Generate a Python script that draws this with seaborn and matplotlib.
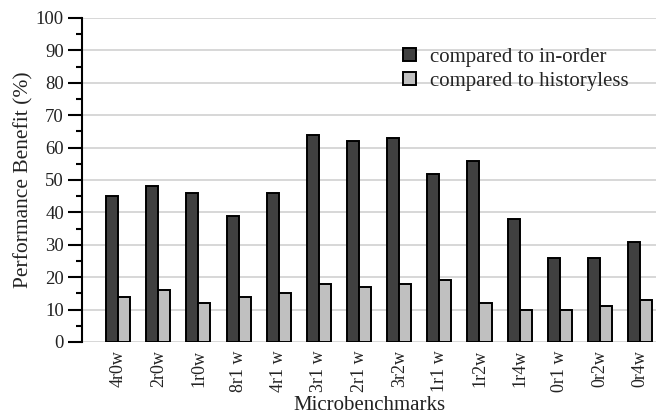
import matplotlib
matplotlib.use("Agg")
import matplotlib.pyplot as plt
import seaborn as sns
import pandas as pd
from matplotlib.ticker import MultipleLocator

categories = ["4r0w", "2r0w", "1r0w", "8r1 w", "4r1 w", "3r1 w", "2r1 w",
              "3r2w", "1r1 w", "1r2w", "1r4w", "0r1 w", "0r2w", "0r4w"]
in_order = [45, 48, 46, 39, 46, 64, 62, 63, 52, 56, 38, 26, 26, 31]
historyless = [14, 16, 12, 14, 15, 18, 17, 18, 19, 12, 10, 10, 11, 13]
series_names = ["compared to in-order", "compared to historyless"]

df = pd.DataFrame({
    "bench": categories * 2,
    "value": in_order + historyless,
    "series": [series_names[0]] * len(categories) + [series_names[1]] * len(categories),
})

sns.set_theme(style="white")
plt.rcParams["font.family"] = ["Liberation Serif", "DejaVu Serif"]
plt.rcParams["font.size"] = 13

fig = plt.figure(figsize=(6.56, 4.16), dpi=100)
ax = fig.add_axes([82 / 656, 74 / 416, 574 / 656, 324 / 416])

sns.barplot(data=df, x="bench", y="value", hue="series", order=categories,
            hue_order=series_names, palette=["#404040", "#c0c0c0"],
            width=0.6, edgecolor="black", linewidth=1.4, ax=ax, zorder=3)

ax.set_ylim(0, 100)
ax.set_xlim(-0.9, -0.9 + 574 / 40.15)
ax.yaxis.set_major_locator(MultipleLocator(10))
ax.yaxis.set_minor_locator(MultipleLocator(5))
ax.grid(axis="y", color="#d4d4d4", linewidth=1.3, zorder=0)
ax.set_axisbelow(True)

for s in ["top", "right", "bottom"]:
    ax.spines[s].set_visible(False)
ax.spines["left"].set_color("black")
ax.spines["left"].set_linewidth(1.5)
ax.spines["left"].set_zorder(4)

ax.tick_params(axis="y", which="major", direction="out", length=10, width=1.5,
               color="black", left=True, labelsize=13.5, pad=3, labelcolor="#222222")
ax.tick_params(axis="y", which="minor", direction="out", length=4, width=1.5,
               color="black", left=True)
ax.tick_params(axis="x", length=0, labelsize=13, pad=6, labelcolor="#222222")
plt.setp(ax.get_xticklabels(), rotation=90, va="top", ha="center")

ax.set_xlabel("Microbenchmarks", fontsize=15, labelpad=3, color="#222222")
ax.set_ylabel("Performance Benefit (%)", fontsize=15.5, labelpad=2, color="#222222")

handles, labels = ax.get_legend_handles_labels()
ax.legend(handles, labels, loc="upper left", bbox_to_anchor=(403 / 656, 1 - 48 / 416),
          bbox_transform=fig.transFigure, frameon=False, fontsize=15,
          handlelength=0.6, handleheight=0.6, handletextpad=0.7,
          labelspacing=0.25, borderaxespad=0, borderpad=0)

fig.savefig("out.png", dpi=100)
